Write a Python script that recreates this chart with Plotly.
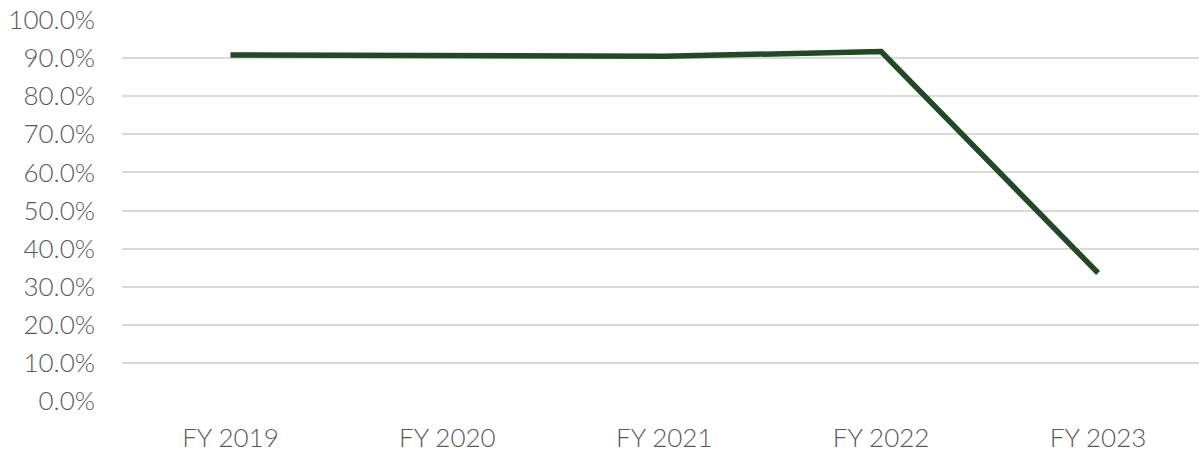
import plotly.graph_objects as go

categories = ["FY 2019", "FY 2020", "FY 2021", "FY 2022", "FY 2023"]
values = [0.908, 0.905, 0.905, 0.917, 0.336]
y_ticks = [i / 10 for i in range(11)]
y_labels = [f"{v*100:.1f}%" for v in y_ticks]

W, H = 1199, 453
left, top, plot_h = 121.5, 20, 381.3
cat_w = 217.0

fig = go.Figure()
fig.add_trace(go.Scatter(
    x=list(range(len(categories))), y=values, mode="lines",
    line=dict(color="#1F4A23", width=5.5),
    hoverinfo="skip", showlegend=False,
))

fig.update_layout(
    width=W, height=H,
    margin=dict(l=left, r=0, t=top, b=H - top - plot_h, pad=0),
    paper_bgcolor="white", plot_bgcolor="white",
    font=dict(family="Lato, 'Open Sans', sans-serif", color="#595959", size=26, weight=300),
    xaxis=dict(
        range=[-0.5, -0.5 + (W - left) / cat_w],
        tickmode="array", tickvals=list(range(len(categories))), ticktext=categories,
        showgrid=False, zeroline=False, showline=False,
        ticks="", ticklabelstandoff=19,
    ),
    yaxis=dict(
        range=[0, 1],
        tickmode="array", tickvals=y_ticks, ticktext=y_labels,
        showgrid=True, gridcolor="#D9D9D9", gridwidth=1.6,
        zeroline=False, showline=False, ticks="", ticklabelstandoff=26,
    ),
)

fig.write_html("out.html")
